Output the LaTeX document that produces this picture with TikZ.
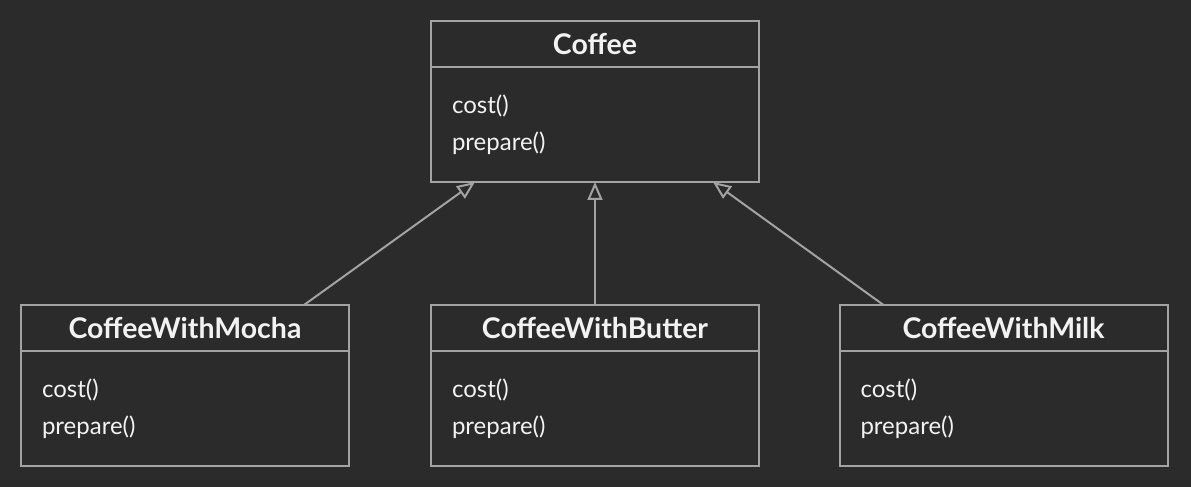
\documentclass[tikz,border=0pt]{standalone}
\usepackage{fontspec}
\setmainfont{Lato}
\usetikzlibrary{arrows.meta,positioning}
\definecolor{bg}{HTML}{2B2B2B}
\definecolor{frame}{HTML}{A3A3A3}
\definecolor{ink}{HTML}{F2F2F2}

\begin{document}
\begin{tikzpicture}[x=1pt, y=1pt,
        classhead/.style={draw=frame, line width=2pt, outer sep=0pt, inner sep=0pt,
            minimum width=328pt, minimum height=46pt, text=ink,
            font=\fontsize{28.5}{30}\selectfont\bfseries},
        classbody/.style={draw=frame, line width=2pt, outer sep=0pt, inner ysep=0pt,
            inner xsep=21pt, text width=286pt, minimum height=115pt, align=left, text=ink,
            font=\fontsize{24}{37}\selectfont},
        inherit/.style={draw=frame, line width=2pt,
            -{Triangle[open, length=18pt, width=15pt]}}]
                \fill[bg] (0, 0) rectangle (1191, 487);
                \useasboundingbox (0, 0) rectangle (1191, 487);

                % base class
                \node[classhead] (coffee) at (595, 443) {Coffee};
                \node[classbody, below=0pt of coffee] (coffeeOps) {cost()\\prepare()};

                % decorators
                \node[classhead] (mocha) at (185, 159) {CoffeeWithMocha};
                \node[classbody, below=0pt of mocha] (mochaOps) {cost()\\prepare()};
                \node[classhead] (butter) at (595, 159) {CoffeeWithButter};
                \node[classbody, below=0pt of butter] (butterOps) {cost()\\prepare()};
                \node[classhead] (milk) at (1003.5, 159) {CoffeeWithMilk};
                \node[classbody, below=0pt of milk] (milkOps) {cost()\\prepare()};

                \draw[inherit] ([xshift=-45pt]mocha.north east) -- ([xshift=44pt]coffeeOps.south west);
                \draw[inherit] (butter.north) -- (coffeeOps.south);
                \draw[inherit] ([xshift=44pt]milk.north west) -- ([xshift=-46pt]coffeeOps.south east);
\end{tikzpicture}
\end{document}
